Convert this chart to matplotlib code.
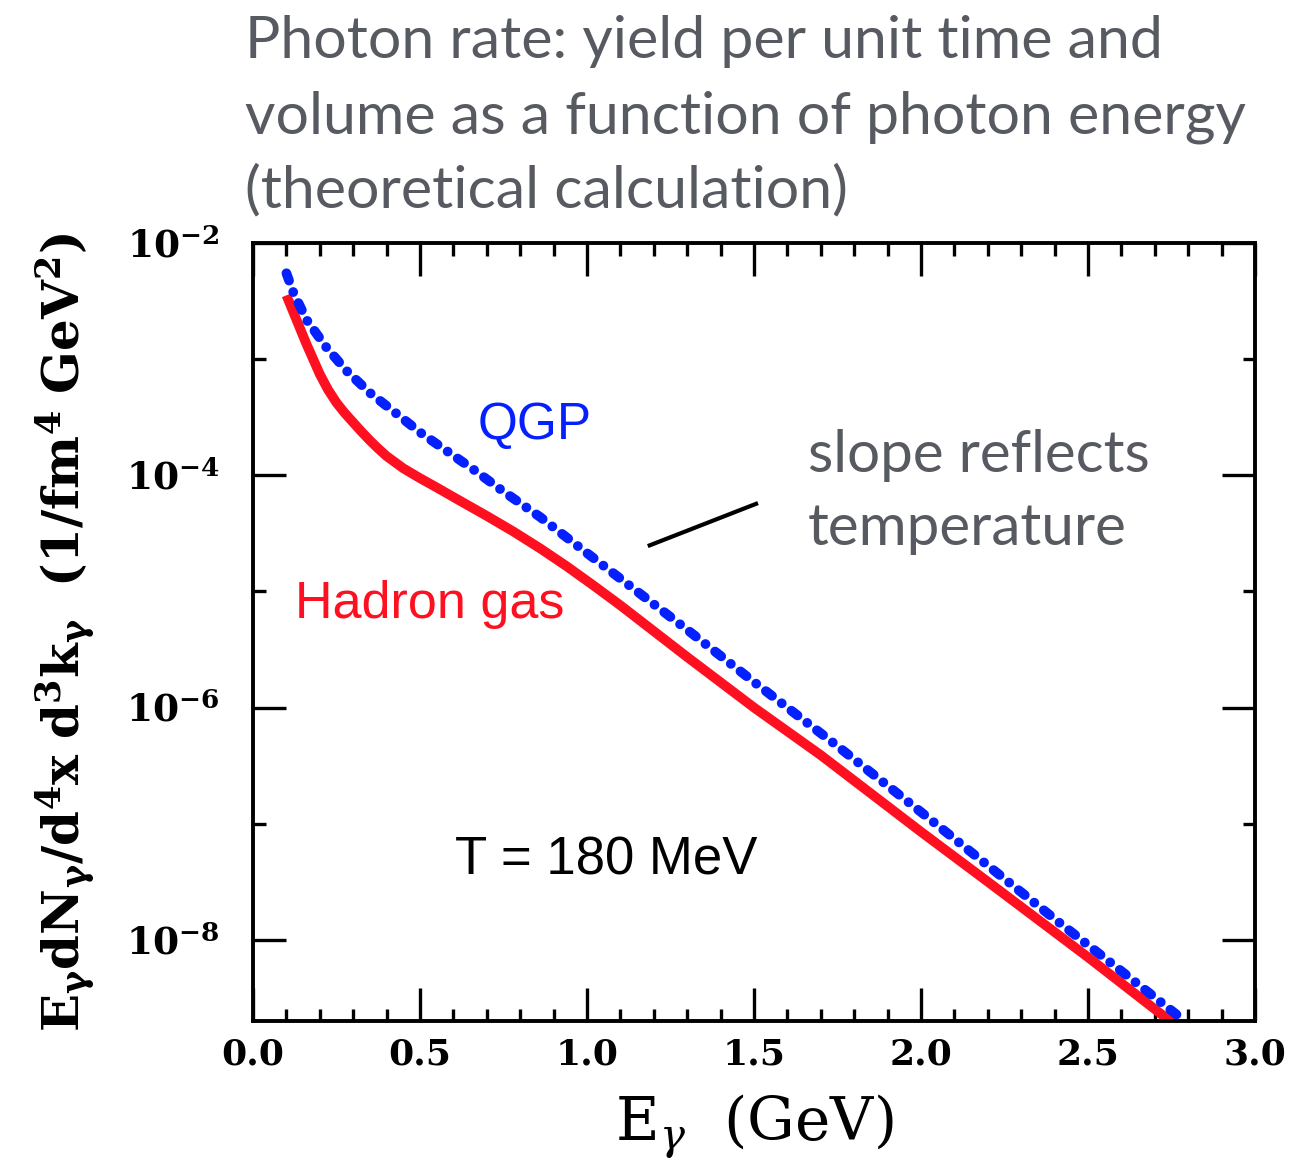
import numpy as np
import matplotlib
matplotlib.use("Agg")
import matplotlib.pyplot as plt
from matplotlib.ticker import FixedLocator, FixedFormatter, MultipleLocator

# QGP rate (log10 of the rate)
qgp_e = [0.10, 0.12, 0.16, 0.22, 0.28, 0.35, 0.43, 0.50, 0.58, 0.66, 0.75,
         0.86, 1.00, 1.10, 1.30, 1.50, 1.74, 2.00, 2.20, 2.40, 2.60, 2.77]
qgp_log = [-2.26, -2.42, -2.66, -2.90, -3.10, -3.29, -3.47, -3.63, -3.79, -3.95, -4.14,
           -4.36, -4.67, -4.89, -5.33, -5.78, -6.31, -6.90, -7.36, -7.82, -8.27, -8.655]

# hadron gas rate
had_e = [0.10, 0.13, 0.16, 0.20, 0.225, 0.25, 0.275, 0.30, 0.325, 0.35, 0.375, 0.40,
         0.45, 0.50, 0.55, 0.62, 0.70, 0.78, 0.86, 0.94, 1.02, 1.10, 1.30, 1.50,
         1.70, 2.00, 2.20, 2.50, 2.755]
had_log = [-2.45, -2.66, -2.87, -3.13, -3.265, -3.375, -3.465, -3.545, -3.625, -3.70, -3.77, -3.835,
           -3.94, -4.025, -4.105, -4.22, -4.35, -4.485, -4.63, -4.785, -4.95, -5.12, -5.565, -6.00,
           -6.41, -7.07, -7.50, -8.15, -8.72]

x_major = [0.0, 0.5, 1.0, 1.5, 2.0, 2.5, 3.0]
x_labels = ["0.0", "0.5", "1.0", "1.5", "2.0", "2.5", "3.0"]
y_major_exp = [-8, -6, -4, -2]
y_minor_exp = [-7, -5, -3]

title_lines = ["Photon rate: yield per unit time and",
               "volume as a function of photon energy",
               "(theoretical calculation)"]

BLUE = "#0520ff"
RED = "#ff1020"
GREY = "#575b61"


def main():
    plt.rcParams["mathtext.fontset"] = "dejavuserif"
    fig = plt.figure(figsize=(13.09, 11.72), dpi=100)
    ax = fig.add_axes([0.1933, 0.1288, 0.7654, 0.6638])

    ax.plot(had_e, 10.0 ** np.array(had_log), color=RED, lw=7, solid_capstyle="butt",
            solid_joinstyle="round")
    ax.plot(qgp_e, 10.0 ** np.array(qgp_log), color=BLUE, lw=7,
            linestyle=(0, (0.8, 1.25, 0.01, 1.25)), dash_capstyle="round")

    ax.set_yscale("log")
    ax.set_xlim(0, 3.0)
    ax.set_ylim(10 ** -8.70, 1e-2)

    ax.xaxis.set_major_locator(FixedLocator(x_major))
    ax.xaxis.set_major_formatter(FixedFormatter(x_labels))
    ax.xaxis.set_minor_locator(MultipleLocator(0.1))
    ax.yaxis.set_major_locator(FixedLocator([10.0 ** e for e in y_major_exp]))
    ax.yaxis.set_major_formatter(FixedFormatter(
        [r"$\mathbf{10^{%d}}$" % e for e in y_major_exp]))
    ax.yaxis.set_minor_locator(FixedLocator([10.0 ** e for e in y_minor_exp]))
    ax.yaxis.set_minor_formatter(FixedFormatter([""] * len(y_minor_exp)))

    ax.tick_params(which="both", direction="in", top=True, right=True, width=2.4)
    ax.tick_params(which="major", length=24)
    ax.tick_params(which="minor", length=9)
    ax.tick_params(axis="x", which="major", pad=12)
    ax.tick_params(axis="y", which="major", pad=24)
    for lab in ax.get_xticklabels():
        lab.set_fontfamily("DejaVu Serif")
        lab.set_fontweight("bold")
        lab.set_fontsize(26)
    for lab in ax.get_yticklabels():
        lab.set_fontsize(27)
    for sp in ax.spines.values():
        sp.set_linewidth(2.8)

    ax.set_xlabel(r"$\mathrm{E}_{\gamma}\ \ \mathrm{(GeV)}$", fontsize=43, labelpad=15)
    ax.set_ylabel(r"$\mathbf{E_{\gamma}dN_{\gamma}/d^4x\ d^3k_{\gamma}\ \ (1/fm^4\ GeV^2)}$",
                  fontsize=36)
    ax.yaxis.set_label_coords(-0.157, 0.5)

    # curve labels
    ax.text(0.2246, 0.766, "QGP", color=BLUE, fontsize=37, family="Liberation Sans",
            transform=ax.transAxes, va="center")
    ax.text(0.0419, 0.535, "Hadron gas", color=RED, fontsize=37.5, family="Liberation Sans",
            transform=ax.transAxes, va="center")
    ax.text(0.2016, 0.207, "T = 180 MeV", color="black", fontsize=38,
            family="Liberation Sans", transform=ax.transAxes, va="center")

    # pointer for the slope note
    ax.plot([0.394, 0.504], [0.6105, 0.6658], color="black", lw=3,
            transform=ax.transAxes, solid_capstyle="butt")

    fig.text(0.617, 0.5973, "slope reflects", color=GREY, fontsize=42,
             family="Lato", va="baseline")
    fig.text(0.617, 0.535, "temperature", color=GREY, fontsize=42,
             family="Lato", va="baseline")

    ys = [0.9505, 0.8865, 0.8234]
    for line, y in zip(title_lines, ys):
        fig.text(0.187, y, line, color=GREY, fontsize=42.5, family="Lato", va="baseline")

    fig.savefig("out.png", dpi=100)


if __name__ == "__main__":
    main()
